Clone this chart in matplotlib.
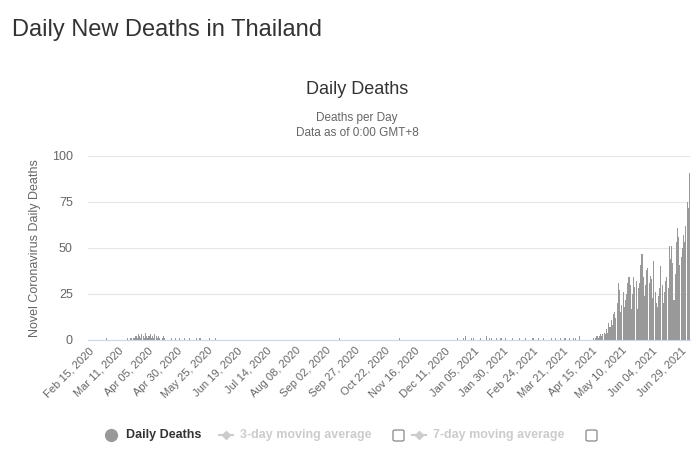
import numpy as np
import pandas as pd
import matplotlib
matplotlib.use("Agg")
import matplotlib.pyplot as plt
from matplotlib.patches import FancyBboxPatch
from matplotlib.lines import Line2D

plt.rcParams['font.family'] = ['Liberation Sans', 'DejaVu Sans']

# daily deaths, Feb 15 2020 -> Jul 6 2021 (zero where nothing is listed)
start = "2020-02-15"
end = "2021-07-06"

# first wave 2020, consecutive days starting Mar 19 2020
wave1_start = "2020-03-19"
wave1 = [1, 0, 1, 1, 0, 1, 1, 2, 1, 3, 2, 1, 3, 2, 1, 4, 2, 1, 2, 3,
         1, 2, 1, 3, 2, 1, 2, 1, 0, 1, 2, 1]

# scattered single deaths
sparse_dates = ["2020-03-01", "2020-04-25", "2020-04-28", "2020-05-02",
                "2020-05-06", "2020-05-10", "2020-05-16", "2020-05-19",
                "2020-05-27", "2020-06-01", "2020-09-14", "2020-11-03",
                "2020-12-22", "2020-12-27", "2020-12-29", "2021-01-03",
                "2021-01-05", "2021-01-11", "2021-01-16", "2021-01-18",
                "2021-01-20", "2021-01-24", "2021-01-28", "2021-02-01",
                "2021-02-07", "2021-02-13", "2021-02-18", "2021-02-24",
                "2021-03-01", "2021-03-05", "2021-03-12", "2021-03-15",
                "2021-03-19", "2021-03-23", "2021-03-27", "2021-03-30",
                "2021-04-01", "2021-04-04"]
sparse_vals = [1, 1, 1, 1, 1, 1, 1, 1, 1, 1, 1, 1,
               1, 1, 2, 1, 1, 1, 2, 1, 1, 1, 1, 1, 1, 1, 1, 1,
               1, 1, 1, 1, 1, 1, 1, 1, 1, 2]

# third wave 2021, consecutive days up to the last day
wave3 = [1, 0, 1, 2, 1, 2, 3, 2, 3, 4, 3, 6, 4, 9, 7, 11, 8, 14, 15, 12,
         20, 31, 27, 15, 19, 26, 18, 22, 25, 31, 34, 30, 17, 25, 34, 29,
         32, 17, 28, 31, 41, 47, 34, 24, 30, 38, 39, 31, 35, 33, 23, 43,
         26, 20, 18, 24, 28, 40, 30, 20, 26, 32, 34, 28, 51, 44, 51, 42,
         22, 36, 53, 61, 56, 41, 45, 50, 57, 53, 62, 75, 72, 91]

dates = pd.date_range(start, end, freq="D")
deaths = pd.Series(0, index=dates)
deaths[pd.date_range(wave1_start, periods=len(wave1))] = wave1
deaths[pd.to_datetime(sparse_dates)] = sparse_vals
deaths[pd.date_range(end=end, periods=len(wave3))] = wave3

fig = plt.figure(figsize=(7, 4.63), dpi=100)
ax = fig.add_axes([88 / 700, 1 - 340 / 463, 602 / 700, 184 / 463])

x = np.arange(len(deaths))
ax.bar(x, deaths.values, width=0.9, color="#999999", linewidth=0)

ax.set_ylim(0, 100)
ax.set_xlim(-0.5, len(deaths) - 0.5)
ax.set_yticks([0, 25, 50, 75, 100])
ax.grid(axis="y", color="#e6e6e6", linewidth=0.8)
ax.set_axisbelow(True)
for s in ["top", "right", "left"]:
    ax.spines[s].set_visible(False)
ax.spines["bottom"].set_color("#ccd6eb")
ax.tick_params(axis="y", length=0, colors="#666666", labelsize=9, pad=11)
ax.tick_params(axis="x", length=0, colors="#666666", labelsize=8, pad=4)

tick_idx = x[::25]
ax.set_xticks(tick_idx)
ax.set_xticklabels([d.strftime("%b %d, %Y") for d in dates[::25]],
                   rotation=45, ha="right", rotation_mode="anchor")
ax.set_ylabel("Novel Coronavirus Daily Deaths", color="#666666", fontsize=9,
              labelpad=8)


def px(xp, yp):
    return xp / 700, 1 - yp / 463


fig.text(*px(12, 30), "Daily New Deaths in Thailand", fontsize=17,
         color="#333333", va="center")
fig.text(*px(357, 89), "Daily Deaths", fontsize=13, color="#333333",
         ha="center", va="center")
fig.text(*px(357, 118), "Deaths per Day", fontsize=8.5, color="#666666",
         ha="center", va="center")
fig.text(*px(357, 133), "Data as of 0:00 GMT+8", fontsize=8.5, color="#666666",
         ha="center", va="center")

# legend
fig.lines.append(Line2D([111 / 700], [1 - 435 / 463], transform=fig.transFigure,
                        marker="o", markersize=8.5, color="#999999",
                        linestyle="none", figure=fig))
fig.text(*px(126, 435), "Daily Deaths", fontsize=9, fontweight="bold",
         color="#333333", va="center")
for lx, label, bx in [(219, "3-day moving average", 393),
                      (412, "7-day moving average", 586)]:
    fig.lines.append(Line2D([lx / 700, (lx + 14) / 700], [1 - 435 / 463] * 2,
                            transform=fig.transFigure, color="#cccccc",
                            lw=1.5, figure=fig))
    fig.lines.append(Line2D([(lx + 7) / 700], [1 - 435 / 463],
                            transform=fig.transFigure, color="#cccccc",
                            marker="D", markersize=4, figure=fig))
    fig.text(*px(lx + 21, 435), label, fontsize=9, fontweight="bold",
             color="#cccccc", va="center")
    fig.patches.append(FancyBboxPatch(px(bx, 441), 11 / 700, 11 / 463,
                                      boxstyle="round,pad=0,rounding_size=0.003",
                                      transform=fig.transFigure, fill=False,
                                      edgecolor="#888888", lw=0.9, figure=fig))

fig.savefig("out.png", dpi=100)
